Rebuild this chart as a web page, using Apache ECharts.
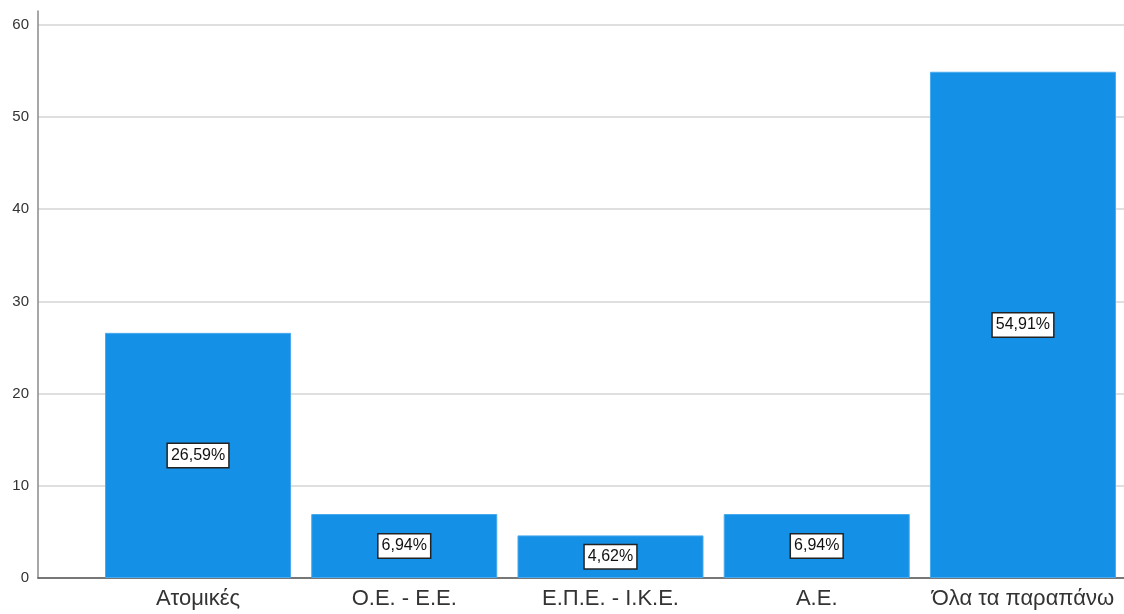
<!DOCTYPE html>
<html>
<head>
<meta charset="utf-8">
<script src="https://cdn.jsdelivr.net/npm/echarts@6/dist/echarts.min.js"></script>
<style>
html,body{margin:0;padding:0;background:#fff;}
#main{width:1124px;height:614px;}
</style>
</head>
<body>
<div id="main"></div>
<script>
const categories = ['Ατομικές', 'Ο.Ε. - Ε.Ε.', 'Ε.Π.Ε. - Ι.Κ.Ε.', 'Α.Ε.', 'Όλα τα παραπάνω'];
const percents = [26.59, 6.94, 4.62, 6.94, 54.91];
const yTicks = [0, 10, 20, 30, 40, 50, 60];

const chart = echarts.init(document.getElementById('main'), null, {renderer: 'canvas'});
const fmt = v => v.toFixed(2).replace('.', ',') + '%';
chart.setOption({
  animation: false,
  backgroundColor: '#ffffff',
  grid: {left: 38, right: 0, top: 11, bottom: 36, containLabel: false},
  xAxis: {
    type: 'value',
    min: -0.776,
    max: 4.49,
    splitLine: {show: false},
    axisTick: {show: false},
    axisLine: {show: true, onZero: false, lineStyle: {color: '#555555', width: 1.5}},
    axisLabel: {
      customValues: categories.map((c, i) => i),
      formatter: v => categories[Math.round(v)] || '',
      fontFamily: 'Liberation Sans, Arial, sans-serif',
      fontSize: 22,
      color: '#333333',
      margin: 10
    }
  },
  yAxis: {
    type: 'value',
    min: 0,
    max: 61.5,
    interval: 10,
    axisLine: {show: true, onZero: false, lineStyle: {color: '#8a8a8a', width: 1.5}},
    axisTick: {show: false},
    splitLine: {show: true, showMaxLine: false, lineStyle: {color: '#d4d4d4', width: 1.5}},
    axisLabel: {
      customValues: yTicks,
      fontFamily: 'Liberation Sans, Arial, sans-serif',
      fontSize: 15,
      color: '#333333',
      margin: 9
    }
  },
  series: [{
    type: 'bar',
    barWidth: 186,
    data: percents.map((v, i) => [i, v]),
    itemStyle: {color: '#1490e6', borderColor: '#4aa9ec', borderWidth: 1},
    label: {
      show: true,
      position: 'inside',
      formatter: p => fmt(p.value[1]),
      fontFamily: 'Liberation Sans, Arial, sans-serif',
      fontSize: 16,
      color: '#111111',
      backgroundColor: '#ffffff',
      borderColor: '#222222',
      borderWidth: 1.5,
      padding: [4, 3, 3, 3]
    }
  }]
});
</script>
</body>
</html>
